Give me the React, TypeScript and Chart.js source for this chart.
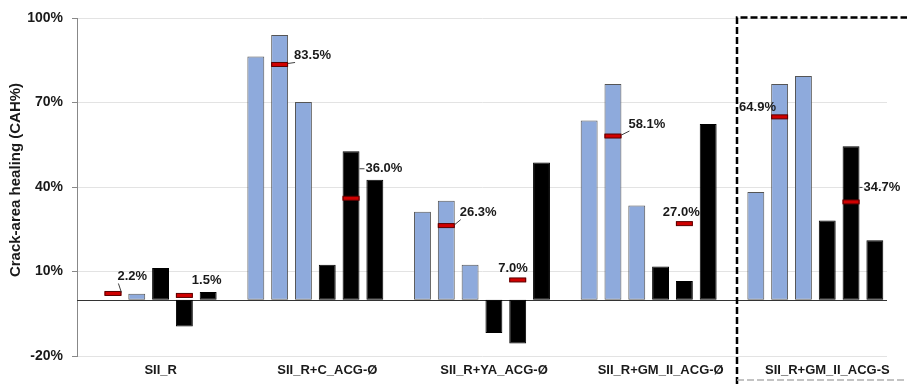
import React, { useEffect, useRef } from "react";
import { Chart, registerables } from "chart.js";

Chart.register(...registerables);

const categories = [
  "SII_R",
  "SII_R+C_ACG-Ø",
  "SII_R+YA_ACG-Ø",
  "SII_R+GM_II_ACG-Ø",
  "SII_R+GM_II_ACG-S",
];
const blue1: (number | null)[] = [null, 86.3, 31.2, 63.6, 38.2];
const blue2: (number | null)[] = [null, 94.0, 35.1, 76.6, 76.6];
const blue3: (number | null)[] = [2.1, 70.2, 12.4, 33.4, 79.4];
const black1: (number | null)[] = [11.2, 12.4, -11.8, 11.8, 28.1];
const black2: (number | null)[] = [-9.5, 52.7, -15.6, 6.6, 54.5];
const black3: (number | null)[] = [2.7, 42.6, 48.7, 62.4, 21.1];
const blueAvg = [2.2, 83.5, 26.3, 58.1, 64.9];
const blackAvg = [1.5, 36.0, 7.0, 27.0, 34.7];
const yTicks = [-20, 10, 40, 70, 100];
const yTitle = "Crack-area healing (CAH%)";

// label placement relative to marker: [dx from marker right, dy from marker, leader type]
const blueLabelPos: [number, number, string][] = [
  [-4, -17, "diag"],
  [6, -9, "diag"],
  [5, -13, "diag"],
  [7, -12, "diag"],
  [-49, -9, "none"],
];
const blackLabelPos: [number, number, string][] = [
  [-1, -15, "none"],
  [6, -30, "dash"],
  [-28, -12, "none"],
  [-30, -11, "none"],
  [4, -15, "dash"],
];

const FONT = "'Liberation Sans', Arial, sans-serif";
const BLUE = "#8eaadc";

const toPts = (arr: (number | null)[]) => arr.map((v, i) => ({ x: i, y: v }));

const overlay = {
  id: "overlay",
  beforeDatasetsDraw(chart: any) {
    const { ctx, chartArea, scales } = chart;
    const y0 = Math.round(scales.y.getPixelForValue(0)) + 0.5;
    ctx.save();
    ctx.strokeStyle = "#333333";
    ctx.lineWidth = 1;
    ctx.beginPath();
    ctx.moveTo(chartArea.left, y0);
    ctx.lineTo(chartArea.right, y0);
    ctx.stroke();
    ctx.restore();
  },
  afterDatasetsDraw(chart: any) {
    const { ctx, scales } = chart;
    const drawSet = (dsIndex: number, avgs: number[], pos: [number, number, string][]) => {
      const meta = chart.getDatasetMeta(dsIndex);
      avgs.forEach((v, i) => {
        const el = meta.data[i];
        if (!el) return;
        const w = el.width;
        const cx = el.x;
        const y = scales.y.getPixelForValue(v);
        const left = cx - w / 2;
        const right = cx + w / 2;
        ctx.save();
        ctx.fillStyle = "#d00000";
        ctx.strokeStyle = "#5a0000";
        ctx.lineWidth = 1;
        ctx.fillRect(left, y - 2, w, 4);
        ctx.strokeRect(left + 0.5, y - 2, w - 1, 4);
        const [dx, dy, lead] = pos[i];
        const lx = right + dx;
        const ly = y + dy;
        ctx.font = `bold 13px ${FONT}`;
        ctx.fillStyle = "#1a1a1a";
        ctx.textAlign = "left";
        ctx.textBaseline = "middle";
        ctx.fillText(v.toFixed(1) + "%", lx, ly);
        ctx.strokeStyle = "#404040";
        ctx.lineWidth = 1;
        if (lead === "diag") {
          ctx.beginPath();
          ctx.moveTo(right, y - 1);
          ctx.lineTo(lx + 1, ly + 7);
          ctx.stroke();
        } else if (lead === "dash") {
          ctx.beginPath();
          ctx.moveTo(right, ly + 0.5);
          ctx.lineTo(lx - 1, ly + 0.5);
          ctx.stroke();
        }
        ctx.restore();
      });
    };
    drawSet(1, blueAvg, blueLabelPos);
    drawSet(4, blackAvg, blackLabelPos);
  },
  afterDraw(chart: any) {
    const { ctx, scales, chartArea, width, height } = chart;
    ctx.save();
    ctx.translate(16, 180);
    ctx.rotate(-Math.PI / 2);
    ctx.font = `bold 15px ${FONT}`;
    ctx.fillStyle = "#1a1a1a";
    ctx.textAlign = "center";
    ctx.textBaseline = "middle";
    ctx.fillText(yTitle, 0, 0);
    ctx.restore();

    // dashed highlight box around last group
    const bx = scales.x.getPixelForValue(3.5) + 5;
    const by = chartArea.top - 0.5;
    ctx.save();
    ctx.strokeStyle = "#000";
    ctx.lineWidth = 2.5;
    ctx.setLineDash([7, 3]);
    ctx.beginPath();
    ctx.moveTo(bx, height);
    ctx.lineTo(bx, by);
    ctx.lineTo(width, by);
    ctx.stroke();
    ctx.strokeStyle = "#b0b0b0";
    ctx.lineWidth = 1.5;
    ctx.beginPath();
    ctx.moveTo(bx, height - 4);
    ctx.lineTo(width, height - 4);
    ctx.stroke();
    ctx.restore();
  },
};

export default function App() {
  const ref = useRef<HTMLCanvasElement>(null);
  useEffect(() => {
    if (!ref.current) return;
    const bar = (data: (number | null)[], color: string, border: string) => ({
      type: "bar" as const,
      data: toPts(data),
      backgroundColor: color,
      borderColor: border,
      borderWidth: 1,
      borderSkipped: false,
    });
    const chart = new Chart(ref.current, {
      type: "bar",
      data: {
        datasets: [
          bar(blue1, BLUE, "#555555"),
          bar(blue2, BLUE, "#555555"),
          bar(blue3, BLUE, "#555555"),
          bar(black1, "#000000", "#000000"),
          bar(black2, "#000000", "#000000"),
          bar(black3, "#000000", "#000000"),
        ] as any,
      },
      options: {
        animation: false,
        responsive: false,
        datasets: { bar: { categoryPercentage: 0.857, barPercentage: 0.71 } },
        layout: { padding: { left: 0, right: 20, top: 18, bottom: 0 } },
        plugins: { legend: { display: false }, tooltip: { enabled: false } },
        scales: {
          x: {
            type: "linear",
            offset: false,
            min: -0.43,
            max: 4.43,
            grid: { display: false, drawTicks: false, offset: false },
            border: { display: false },
            afterFit: (s: any) => {
              s.height = 28;
            },
            ticks: {
              stepSize: 1,
              includeBounds: false,
              autoSkip: false,
              maxRotation: 0,
              padding: 7,
              labelOffset: 12,
              color: "#1a1a1a",
              font: { family: FONT, size: 13, weight: "bold" },
              callback: (v: any) => (Number.isInteger(v) ? categories[v] ?? "" : ""),
            },
          },
          y: {
            min: -20,
            max: 100,
            afterFit: (s: any) => {
              s.width = 77;
            },
            afterBuildTicks: (s: any) => {
              s.ticks = yTicks.map((v) => ({ value: v }));
            },
            grid: { color: "#e3e3e3", tickColor: "#888888", tickLength: 5, lineWidth: 1 },
            border: { color: "#888888", width: 1 },
            ticks: {
              padding: 9,
              color: "#1a1a1a",
              font: { family: FONT, size: 14, weight: "bold" },
              callback: (v: any) => v + "%",
            },
          },
        },
      },
      plugins: [overlay],
    } as any);
    return () => chart.destroy();
  }, []);
  return (
    <div style={{ position: "absolute", left: 0, top: 0, width: 907, height: 384, background: "#fff" }}>
      <canvas ref={ref} width={907} height={384} />
    </div>
  );
}
